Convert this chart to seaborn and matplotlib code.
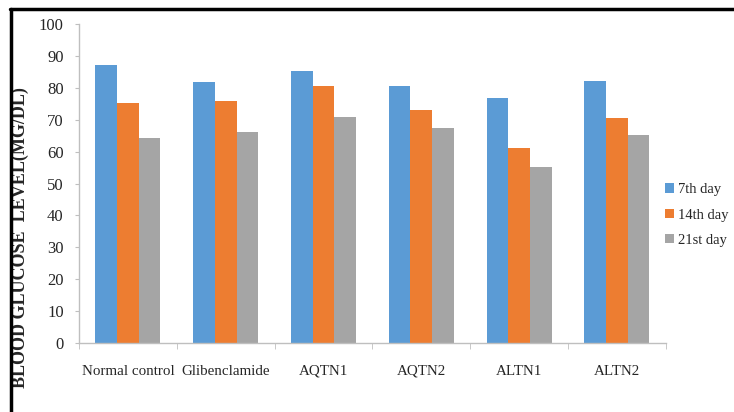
import pandas as pd
import matplotlib.pyplot as plt
from matplotlib.lines import Line2D
import seaborn as sns

# data
groups = ['Normal control', 'Glibenclamide', 'AQTN1', 'AQTN2', 'ALTN1', 'ALTN2']
days = ['7th day', '14th day', '21st day']
day7 = [87.0, 81.9, 85.4, 80.7, 76.9, 82.1]
day14 = [75.2, 75.8, 80.7, 73.0, 61.2, 70.4]
day21 = [64.3, 66.0, 71.0, 67.5, 55.1, 65.2]
colors = ['#5B9BD5', '#ED7D31', '#A5A5A5']

df = pd.DataFrame({'group': groups * 3,
                   'day': [d for d in days for _ in groups],
                   'value': day7 + day14 + day21})

sns.set_style('white')
plt.rcParams['font.family'] = ['Liberation Serif', 'DejaVu Serif']

fig = plt.figure(figsize=(7.34, 4.12), dpi=100)
ax = fig.add_axes([0.1076, 0.1675, 0.7994, 0.7742])

sns.barplot(data=df, x='group', y='value', hue='day', order=groups, hue_order=days,
            palette=colors, width=0.665, saturation=1, edgecolor='none', ax=ax)

ax.set_ylim(0, 100)
ax.set_xlim(-0.5, len(groups) - 0.5)
ax.set_yticks(range(0, 101, 10))
ax.set_xlabel('')
ax.set_ylabel('BLOOD GLUCOSE  LEVEL(MG/DL)', fontsize=13, fontweight='bold')
ax.yaxis.set_label_coords(-0.085, 0.33)

for s in ['top', 'right']:
    ax.spines[s].set_visible(False)
for s in ['left', 'bottom']:
    ax.spines[s].set_color('#BFBFBF')
    ax.spines[s].set_linewidth(1)

# ticks on y, category boundary ticks on x
ax.tick_params(axis='y', which='both', left=True, length=3, color='#BFBFBF', labelsize=12, pad=8)
ax.set_xticks(range(len(groups)))
ax.set_xticks([i - 0.5 for i in range(len(groups) + 1)], minor=True)
ax.tick_params(axis='x', which='major', bottom=False, labelsize=10.8, pad=12)
ax.tick_params(axis='x', which='minor', bottom=True, length=4, color='#BFBFBF')

ax.legend(loc='center left', bbox_to_anchor=(0.888, 0.478), bbox_transform=fig.transFigure,
          frameon=False, fontsize=10.5, handlelength=0.6, handleheight=0.6,
          handletextpad=0.3, labelspacing=0.85)

# thick frame lines at top and left of the image
fig.add_artist(Line2D([0.013, 1.0], [0.978, 0.978], color='black', lw=2.5, transform=fig.transFigure))
fig.add_artist(Line2D([0.0145, 0.0145], [0.0, 0.978], color='black', lw=2.5, transform=fig.transFigure))

fig.savefig('out.png', dpi=100)
